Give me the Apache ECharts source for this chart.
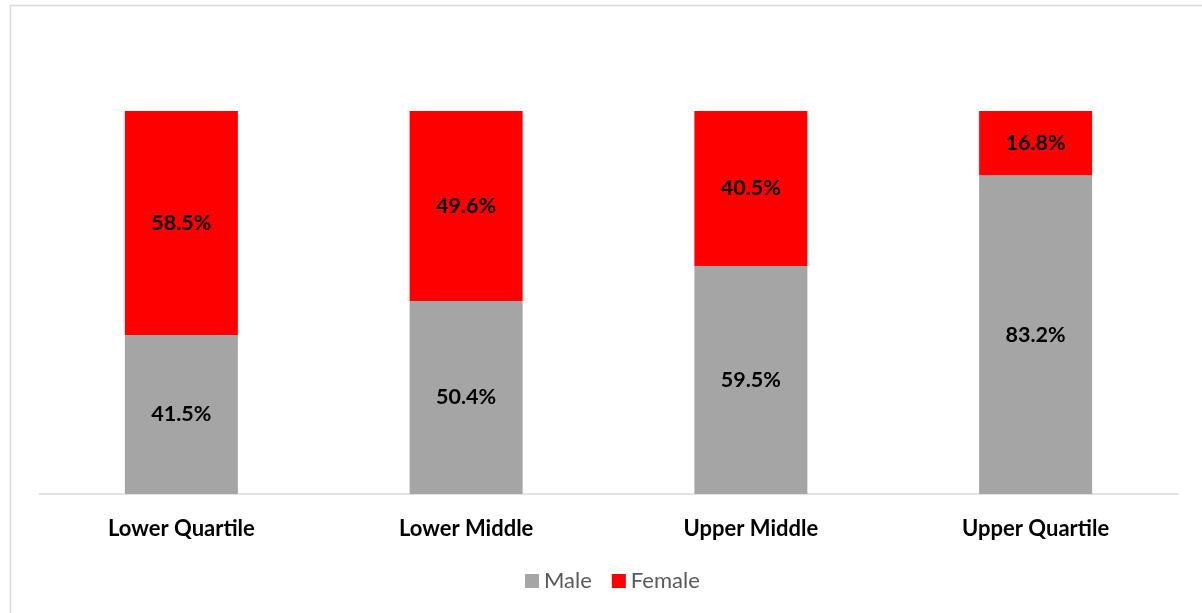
<!DOCTYPE html>
<html><head><meta charset="utf-8">
<script src="https://cdn.jsdelivr.net/npm/echarts@6/dist/echarts.min.js"></script>
<style>html,body{margin:0;padding:0;background:#fff}#c{width:1202px;height:613px}</style>
</head><body><div id="c"></div>
<script>
const categories = ['Lower Quartile', 'Lower Middle', 'Upper Middle', 'Upper Quartile'];
const male = [41.5, 50.4, 59.5, 83.2];
const female = [58.5, 49.6, 40.5, 16.8];
const font = 'Lato, "Open Sans", sans-serif';
const chart = echarts.init(document.getElementById('c'));
const lbl = {show: true, position: 'inside', color: '#000', fontWeight: 'bold', fontSize: 21.5, fontFamily: font, formatter: p => p.value.toFixed(1) + '%'};
chart.setOption({
  animation: false,
  graphic: [{type: 'rect', shape: {x: 10.5, y: 5.5, width: 1210, height: 620}, style: {fill: 'none', stroke: '#d9d9d9', lineWidth: 1.5}, silent: true}],
  grid: {left: 39, right: 24, top: 111, bottom: 119},
  legend: {bottom: 16, left: 520, itemWidth: 14, itemHeight: 14, itemGap: 20, icon: 'rect',
    textStyle: {color: '#595959', fontSize: 22, fontFamily: font}, data: ['Male', 'Female']},
  xAxis: {type: 'category', data: categories,
    axisLine: {lineStyle: {color: '#d9d9d9', width: 1.5}}, axisTick: {show: false},
    axisLabel: {color: '#000', fontWeight: 'bold', fontSize: 22, fontFamily: font, margin: 24}},
  yAxis: {type: 'value', min: 0, max: 100, show: false, splitLine: {show: false}},
  series: [
    {name: 'Male', type: 'bar', stack: 's', barWidth: 113, data: male, itemStyle: {color: '#a5a5a5'}, label: lbl},
    {name: 'Female', type: 'bar', stack: 's', barWidth: 113, data: female, itemStyle: {color: '#ff0000'}, label: lbl}
  ]
});
</script></body></html>
